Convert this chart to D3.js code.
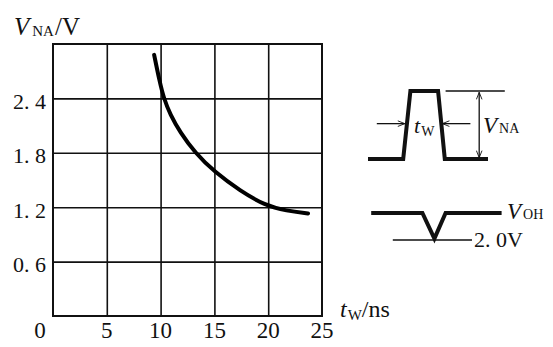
<html>
<head>
<meta charset="utf-8">
<style>
  body { margin: 0; background: #fff; }
  text { font-family: "Liberation Serif", "DejaVu Serif", serif; fill: #111; }
</style>
</head>
<body>
<script src="https://d3js.org/d3.v7.min.js"></script>
<script>
// data
var tw   = [9.4, 9.9, 10.3, 10.9, 11.8, 13.2, 15.0, 17.4, 19.7, 21.7, 23.7];
var vna  = [2.88, 2.59, 2.40, 2.22, 2.03, 1.80, 1.59, 1.38, 1.22, 1.16, 1.13];
var xTicks = [0, 5, 10, 15, 20, 25];
var yTicks = [0.6, 1.2, 1.8, 2.4];

var W = 553, H = 347;
var svg = d3.select("body").append("svg").attr("width", W).attr("height", H);

var x = d3.scaleLinear().domain([0, 25]).range([53, 322]);
var y = d3.scaleLinear().domain([0, 3]).range([316, 44]);

// grid (vertical)
svg.append("g")
  .attr("transform", "translate(0," + y(0) + ")")
  .call(d3.axisBottom(x).tickValues([5, 10, 15, 20]).tickSize(-(y(0) - y(3))).tickFormat(""))
  .call(function(g){ g.select(".domain").remove(); })
  .selectAll("line").attr("stroke", "#111").attr("stroke-width", 1.6);

// grid (horizontal) + labels
var ya = svg.append("g")
  .attr("transform", "translate(" + x(0) + ",0)")
  .call(d3.axisLeft(y).tickValues(yTicks).tickSize(-(x(25) - x(0))).tickPadding(7)
        .tickFormat(function(d){ return d3.format(".1f")(d).replace(".", ". "); }));
ya.select(".domain").remove();
ya.selectAll("line").attr("stroke", "#111").attr("stroke-width", 1.6);
ya.selectAll("text").attr("font-size", 22).attr("dy", "0.45em")
  .attr("font-family", "Liberation Serif, serif").attr("fill", "#111");

// x labels
svg.append("g").selectAll("text")
  .data(xTicks).enter().append("text")
  .attr("x", function(d){ return x(d) + (d === 0 ? -13 : 0); })
  .attr("y", 338)
  .attr("text-anchor", "middle")
  .attr("font-size", 23)
  .text(function(d){ return d; });

// frame
svg.append("rect")
  .attr("x", x(0)).attr("y", y(3))
  .attr("width", x(25) - x(0)).attr("height", y(0) - y(3))
  .attr("fill", "none").attr("stroke", "#111").attr("stroke-width", 2);

// curve
var line = d3.line()
  .x(function(d){ return x(d[0]); })
  .y(function(d){ return y(d[1]); })
  .curve(d3.curveBasis);
svg.append("path")
  .datum(d3.zip(tw, vna))
  .attr("d", line)
  .attr("fill", "none").attr("stroke", "#000").attr("stroke-width", 4)
  .attr("stroke-linecap", "round");

// axis titles
var yt = svg.append("text").attr("x", 14).attr("y", 35).attr("font-size", 25);
yt.append("tspan").attr("font-style", "italic").text("V");
yt.append("tspan").attr("font-size", 15).attr("dx", 3).attr("dy", 1).text("NA");
yt.append("tspan").attr("dy", -1).attr("dx", 1).text("/V");

var xt = svg.append("text").attr("x", 340).attr("y", 317).attr("font-size", 24);
xt.append("tspan").attr("font-style", "italic").text("t");
xt.append("tspan").attr("font-size", 15).attr("dy", 3).attr("dx", 1).text("W");
xt.append("tspan").attr("dy", -3).text("/ns");

// schematic of the noise pulse (drawn in its own little coordinate frame)
var sx = d3.scaleLinear().domain([0, 10]).range([368, 528]);
var sy = d3.scaleLinear().domain([0, 1]).range([159, 91]);
var pulse = [[0, 0], [2.2, 0], [2.65, 1], [4.38, 1], [4.8, 0], [7.5, 0]];
var s = d3.line().x(function(d){ return sx(d[0]); }).y(function(d){ return sy(d[1]); });
var defs = svg.append("defs");
defs.append("marker").attr("id", "ah").attr("viewBox", "0 0 10 10")
  .attr("refX", 10).attr("refY", 5).attr("markerWidth", 10).attr("markerHeight", 7)
  .attr("markerUnits", "userSpaceOnUse").attr("orient", "auto-start-reverse")
  .append("path").attr("d", "M0,1 L10,5 L0,9").attr("fill", "none").attr("stroke", "#111").attr("stroke-width", 1.3);

svg.append("path").attr("d", s(pulse)).attr("fill", "none").attr("stroke", "#111")
  .attr("stroke-width", 4).attr("stroke-linejoin", "miter");
svg.append("path").attr("d", s([[4.85, 1], [8.55, 1]])).attr("stroke", "#111").attr("stroke-width", 1.3);
svg.append("path").attr("d", s([[6.95, 0.98], [6.95, 0.02]])).attr("stroke", "#111").attr("stroke-width", 1.3)
  .attr("marker-start", "url(#ah)").attr("marker-end", "url(#ah)");
svg.append("path").attr("d", "M" + sx(0.55) + "," + sy(0.52) + "L" + sx(2.3) + "," + sy(0.52))
  .attr("stroke", "#111").attr("stroke-width", 1.3).attr("marker-end", "url(#ah)");
svg.append("path").attr("d", "M" + sx(6.4) + "," + sy(0.52) + "L" + sx(4.65) + "," + sy(0.52))
  .attr("stroke", "#111").attr("stroke-width", 1.3).attr("marker-end", "url(#ah)");

var tl = svg.append("text").attr("x", 414).attr("y", 133).attr("font-size", 22);
tl.append("tspan").attr("font-style", "italic").text("t");
tl.append("tspan").attr("font-size", 14).attr("dy", 3).attr("dx", 1).text("W");
var vl = svg.append("text").attr("x", 483).attr("y", 133).attr("font-size", 23);
vl.append("tspan").attr("font-style", "italic").text("V");
vl.append("tspan").attr("font-size", 14).attr("dx", 2).text("NA");

// V_OH with a small dip
var sy2 = d3.scaleLinear().domain([0, 1]).range([240, 213]);
var dip = [[0.2, 1], [3.4, 1], [4.15, 0.05], [4.85, 1], [8.35, 1]];
var s2 = d3.line().x(function(d){ return sx(d[0]); }).y(function(d){ return sy2(d[1]); });
svg.append("path").attr("d", s2(dip)).attr("fill", "none").attr("stroke", "#111").attr("stroke-width", 4);
svg.append("path").attr("d", s2([[1.55, 0], [6.5, 0]])).attr("stroke", "#111").attr("stroke-width", 1.3);

var oh = svg.append("text").attr("x", 507).attr("y", 219).attr("font-size", 23);
oh.append("tspan").attr("font-style", "italic").text("V");
oh.append("tspan").attr("font-size", 14).attr("dx", 2).text("OH");
svg.append("text").attr("x", 474).attr("y", 247).attr("font-size", 22).text("2. 0V");
</script>
</body>
</html>
